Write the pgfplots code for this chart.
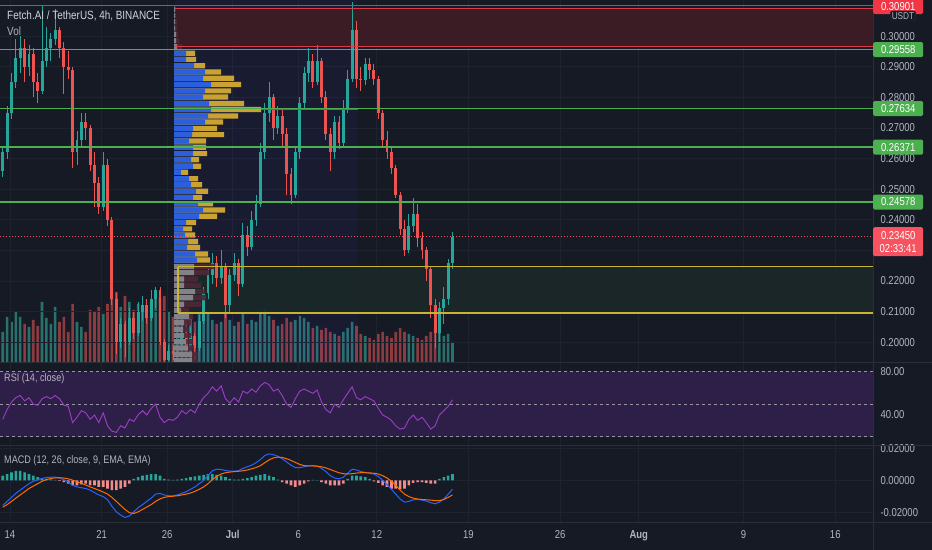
\documentclass[border=0pt]{standalone}
\usepackage{fontspec}
\setmainfont{Liberation Sans}
\usepackage{graphicx}
\usepackage{pgfplots}
\usepackage{pgfplotstable}
\pgfplotsset{compat=1.18}

\definecolor{bg}{HTML}{161A25}
\definecolor{gridc}{HTML}{1F2330}
\definecolor{sepc}{HTML}{2A2E39}
\definecolor{tickc}{HTML}{B2B5BE}
\definecolor{titlec}{HTML}{D1D4DC}
\definecolor{upc}{HTML}{26A69A}
\definecolor{dnc}{HTML}{EF5350}
\definecolor{volup}{HTML}{28726D}
\definecolor{voldn}{HTML}{8C3C41}
\definecolor{greenl}{HTML}{4CAF50}
\definecolor{redl}{HTML}{F23645}
\definecolor{curc}{HTML}{F7525F}
\definecolor{zonec}{HTML}{3B1C25}
\definecolor{zoneline}{HTML}{D83A48}
\definecolor{topline}{HTML}{8C5A66}
\definecolor{yell}{HTML}{C8B430}
\definecolor{boxc}{HTML}{1B2A28}
\definecolor{pblue}{HTML}{2C5FDB}
\definecolor{pgold}{HTML}{C9A233}
\definecolor{pgrey}{HTML}{8F9198}
\definecolor{pmaroon}{HTML}{4F2736}
\definecolor{pocc}{HTML}{5060D0}
\definecolor{rsiband}{HTML}{2E1F48}
\definecolor{rsic}{HTML}{9C3FC8}
\definecolor{dashc}{HTML}{9598A1}
\definecolor{macdc}{HTML}{2962FF}
\definecolor{sigc}{HTML}{FF6D00}
\definecolor{histup}{HTML}{26A69A}
\definecolor{histdn}{HTML}{F28B8B}

\newcommand\sq[1]{\scalebox{0.83}[1]{#1}}

% 8h candles: x (days from 1 June), open, high, low, close, volume (px), RSI, MACD, signal, histogram
\pgfplotstableread{
x o h l c v r m s hh
13.45 0.2560 0.2640 0.2540 0.2620 30 36 -0.0155 -0.0166 0.003
13.78 0.2620 0.2770 0.2600 0.2750 45 45 -0.0130 -0.0150 0.004
14.12 0.2750 0.2880 0.2730 0.2850 40 52 -0.0105 -0.0130 0.005
14.45 0.2850 0.2990 0.2830 0.2930 50 56 -0.0080 -0.0110 0.006
14.78 0.2930 0.3000 0.2880 0.2960 45 58 -0.0060 -0.0090 0.006
15.12 0.2960 0.2990 0.2850 0.2900 38 53 -0.0040 -0.0070 0.005
15.45 0.2900 0.2970 0.2870 0.2940 35 56 -0.0020 -0.0050 0.004
15.78 0.2940 0.2960 0.2800 0.2850 42 50 -0.0005 -0.0035 0.003
16.12 0.2850 0.2880 0.2780 0.2820 36 49 0.0005 -0.0020 0.002
16.45 0.2820 0.3100 0.2810 0.2920 60 55 0.0012 -0.0005 0.0015
16.78 0.2920 0.3030 0.2900 0.2960 44 57 0.0018 0.0005 0.001
17.12 0.2960 0.3010 0.2920 0.2990 38 55 0.0020 0.0012 0.0006
17.45 0.2990 0.3090 0.2970 0.3020 55 58 0.0021 0.0016 0.0003
17.78 0.3020 0.3030 0.2930 0.2960 40 55 0.0015 0.0017 -0.0002
18.12 0.2960 0.2980 0.2810 0.2900 45 49 0.0005 0.0015 -0.001
18.45 0.2900 0.2950 0.2860 0.2890 30 48 -0.0010 0.0010 -0.002
18.78 0.2890 0.2900 0.2570 0.2620 58 33 -0.0030 0.0002 -0.003
19.12 0.2620 0.2690 0.2580 0.2660 40 38 -0.0040 -0.0008 -0.003
19.45 0.2660 0.2750 0.2640 0.2720 35 44 -0.0045 -0.0018 -0.0025
19.78 0.2720 0.2750 0.2660 0.2700 30 42 -0.0050 -0.0028 -0.002
20.12 0.2700 0.2710 0.2560 0.2580 52 36 -0.0060 -0.0040 -0.003
20.45 0.2580 0.2620 0.2440 0.2520 50 40 -0.0075 -0.0050 -0.003
20.78 0.2520 0.2540 0.2420 0.2440 55 33 -0.0090 -0.0060 -0.004
21.12 0.2440 0.2620 0.2430 0.2580 48 42 -0.0100 -0.0072 -0.004
21.45 0.2580 0.2600 0.2380 0.2400 58 30 -0.0120 -0.0085 -0.005
21.78 0.2400 0.2410 0.2120 0.2140 65 25 -0.0160 -0.0105 -0.006
22.12 0.2140 0.2160 0.1960 0.2000 70 24 -0.0195 -0.0130 -0.006
22.45 0.2000 0.2080 0.1980 0.2060 55 30 -0.0215 -0.0155 -0.005
22.78 0.2060 0.2070 0.1950 0.2000 66 28 -0.0230 -0.0180 -0.004
23.12 0.2000 0.2110 0.1990 0.2080 60 36 -0.0220 -0.0200 -0.002
23.45 0.2080 0.2100 0.2010 0.2030 52 34 -0.0195 -0.0205 0.001
23.78 0.2030 0.2130 0.2020 0.2100 58 40 -0.0170 -0.0195 0.002
24.12 0.2100 0.2150 0.2070 0.2120 50 44 -0.0150 -0.0180 0.003
24.45 0.2120 0.2140 0.2060 0.2080 45 40 -0.0130 -0.0165 0.0035
24.78 0.2080 0.2170 0.2070 0.2140 60 46 -0.0110 -0.0150 0.004
25.12 0.2140 0.2180 0.2110 0.2170 70 50 -0.0085 -0.0130 0.004
25.45 0.2170 0.2180 0.1990 0.2000 64 38 -0.0080 -0.0115 0.003
25.78 0.2000 0.2010 0.1935 0.1940 66 33 -0.0090 -0.0105 0.001
26.12 0.1940 0.1990 0.1937 0.1970 50 36 -0.0095 -0.0100 0.0005
26.45 0.1970 0.1990 0.1940 0.1960 45 35 -0.0095 -0.0098 0.0003
26.78 0.1960 0.2010 0.1950 0.1990 48 38 -0.0090 -0.0095 0.0005
27.12 0.1990 0.2050 0.1980 0.2030 46 44 -0.0080 -0.0090 0.001
27.45 0.2030 0.2040 0.1970 0.1990 42 41 -0.0070 -0.0085 0.0015
27.78 0.1990 0.2050 0.1980 0.2020 44 45 -0.0055 -0.0078 0.002
28.12 0.2020 0.2030 0.1960 0.1980 40 42 -0.0040 -0.0068 0.0025
28.45 0.1980 0.2090 0.1970 0.2070 48 50 -0.0020 -0.0055 0.003
28.78 0.2070 0.2180 0.2060 0.2160 52 56 0.0000 -0.0040 0.0035
29.12 0.2160 0.2240 0.2140 0.2220 48 60 0.0030 -0.0020 0.004
29.45 0.2220 0.2290 0.2190 0.2260 42 66 0.0060 0.0005 0.004
29.78 0.2260 0.2280 0.2180 0.2210 38 62 0.0070 0.0025 0.0035
30.12 0.2210 0.2300 0.2190 0.2250 40 67 0.0068 0.0040 0.003
30.45 0.2250 0.2260 0.2080 0.2120 48 55 0.0062 0.0048 0.002
30.78 0.2120 0.2240 0.2100 0.2220 42 51 0.0058 0.0052 0.001
31.12 0.2220 0.2290 0.2200 0.2260 36 56 0.0058 0.0055 0.0005
31.45 0.2260 0.2270 0.2150 0.2190 40 52 0.0060 0.0057 0.0005
31.78 0.2190 0.2390 0.2180 0.2350 48 62 0.0075 0.0060 0.001
32.12 0.2350 0.2380 0.2280 0.2310 38 60 0.0085 0.0065 0.0015
32.45 0.2310 0.2430 0.2300 0.2400 42 64 0.0095 0.0072 0.002
32.78 0.2400 0.2480 0.2380 0.2450 40 61 0.0110 0.0080 0.003
33.12 0.2450 0.2650 0.2440 0.2620 50 67 0.0130 0.0092 0.0035
33.45 0.2620 0.2780 0.2600 0.2750 52 70 0.0155 0.0110 0.004
33.78 0.2750 0.2850 0.2720 0.2800 46 68 0.0165 0.0128 0.003
34.12 0.2800 0.2810 0.2660 0.2700 42 62 0.0160 0.0140 0.002
34.45 0.2700 0.2770 0.2680 0.2740 36 64 0.0150 0.0145 0.0005
34.78 0.2740 0.2760 0.2640 0.2680 38 58 0.0135 0.0143 -0.001
35.12 0.2680 0.2700 0.2480 0.2550 44 50 0.0115 0.0135 -0.002
35.45 0.2550 0.2570 0.2450 0.2480 40 47 0.0095 0.0125 -0.003
35.78 0.2480 0.2640 0.2470 0.2620 42 55 0.0080 0.0112 -0.004
36.12 0.2620 0.2800 0.2600 0.2780 46 62 0.0080 0.0100 -0.003
36.45 0.2780 0.2900 0.2760 0.2880 44 64 0.0085 0.0092 -0.002
36.78 0.2880 0.2960 0.2850 0.2920 40 62 0.0090 0.0090 -0.0005
37.12 0.2920 0.2940 0.2830 0.2850 34 60 0.0092 0.0090 0.0003
37.45 0.2850 0.2970 0.2840 0.2920 36 63 0.0090 0.0088 0.0002
37.78 0.2920 0.2930 0.2780 0.2800 32 52 0.0075 0.0085 -0.001
38.12 0.2800 0.2820 0.2660 0.2680 34 45 0.0055 0.0078 -0.002
38.45 0.2680 0.2700 0.2560 0.2620 30 42 0.0030 0.0068 -0.003
38.78 0.2620 0.2740 0.2600 0.2720 28 50 0.0015 0.0058 -0.003
39.12 0.2720 0.2740 0.2630 0.2650 26 47 0.0010 0.0048 -0.003
39.45 0.2650 0.2790 0.2640 0.2760 30 54 0.0020 0.0042 -0.002
39.78 0.2760 0.2890 0.2750 0.2860 34 60 0.0045 0.0040 0.001
40.12 0.2860 0.3110 0.2850 0.3020 40 66 0.0070 0.0042 0.003
40.45 0.3020 0.3050 0.2830 0.2860 36 56 0.0065 0.0046 0.003
40.78 0.2860 0.2900 0.2820 0.2855 28 54 0.0055 0.0048 0.0025
41.12 0.2855 0.2930 0.2840 0.2910 26 57 0.0050 0.0048 0.002
41.45 0.2910 0.2930 0.2860 0.2890 24 55 0.0045 0.0047 0.001
41.78 0.2890 0.2910 0.2840 0.2860 22 53 0.0040 0.0045 -0.0005
42.12 0.2860 0.2870 0.2730 0.2750 28 46 0.0025 0.0040 -0.0015
42.45 0.2750 0.2760 0.2640 0.2660 30 40 0.0000 0.0030 -0.003
42.78 0.2660 0.2690 0.2600 0.2620 26 38 -0.0025 0.0015 -0.004
43.12 0.2620 0.2640 0.2550 0.2570 24 35 -0.0055 -0.0005 -0.005
43.45 0.2570 0.2580 0.2470 0.2480 30 30 -0.0085 -0.0030 -0.005
43.78 0.2480 0.2490 0.2350 0.2370 34 27 -0.0115 -0.0060 -0.0055
44.12 0.2370 0.2400 0.2280 0.2300 30 28 -0.0135 -0.0085 -0.005
44.45 0.2300 0.2420 0.2290 0.2380 28 36 -0.0130 -0.0100 -0.003
44.78 0.2380 0.2470 0.2360 0.2420 26 40 -0.0120 -0.0110 -0.0015
45.12 0.2420 0.2450 0.2310 0.2340 24 35 -0.0118 -0.0115 -0.001
45.45 0.2340 0.2360 0.2270 0.2300 22 38 -0.0122 -0.0118 -0.001
45.78 0.2300 0.2310 0.2200 0.2240 26 33 -0.0128 -0.0120 -0.0015
46.12 0.2240 0.2250 0.2080 0.2120 30 27 -0.0138 -0.0122 -0.002
46.45 0.2120 0.2140 0.1980 0.2030 34 30 -0.0145 -0.0125 -0.002
46.78 0.2030 0.2130 0.2000 0.2110 30 40 -0.0135 -0.0125 0.001
47.12 0.2110 0.2180 0.2060 0.2140 26 44 -0.0115 -0.0118 0.002
47.45 0.2140 0.2270 0.2120 0.2260 28 48 -0.0085 -0.0105 0.003
47.78 0.2260 0.2360 0.2240 0.2345 20 54 -0.0055 -0.0090 0.004
}\candles

% volume profile, value area rows: price, buy width, total width (px)
\pgfplotstableread{
p b t
0.2944 12 21
0.2924 12 22
0.2903 20 31
0.2883 31 47
0.2862 29 60
0.2842 37 67
0.2821 31 57
0.2801 29 54
0.2780 35 70
0.2760 37 87
0.2739 34 64
0.2719 31 49
0.2698 19 43
0.2678 18 50
0.2657 15 32
0.2637 19 32
0.2616 19 33
0.2596 17 25
0.2575 19 27
0.2555 7 14
0.2534 15 24
0.2514 17 28
0.2493 22 34
0.2473 19 28
0.2452 24 39
0.2432 29 51
0.2411 25 43
0.2391 12 22
0.2370 9 18
0.2350 11 21
0.2329 14 24
0.2309 13 26
0.2288 21 34
0.2268 23 36
}\vaprof

% rows outside the value area
\pgfplotstableread{
p g m
0.2247 20 40
0.2227 20 35
0.2206 10 24
0.2186 10 27
0.2165 21 31
0.2145 19 32
0.2124 10 27
0.2104 7 15
0.2083 15 19
0.2063 10 17
0.2042 9 15
0.2022 10 17
0.2001 12 19
0.1981 14 20
0.1960 18 24
0.1940 18 24
0.2965 3 8
0.2985 2 5
0.3006 2 4
0.3026 1 3
0.3047 1 3
0.3067 1 2
0.3088 1 2
}\outprof

\pgfplotsset{
  panel/.style={scale only axis, width=873bp, xmin=13.24, xmax=79.88,
    enlargelimits=false, clip=true, anchor=south west,
    axis line style={draw=none}, major tick length=0pt,
    grid=major, major grid style={draw=gridc, line width=0.8bp},
    xtick={14,21,26,31,36,42,49,56,62,70,77}, xticklabels={},
    scaled y ticks=false, yticklabel pos=right,
    yticklabel style={text=tickc, font=\fontsize{11.5}{12}\selectfont, anchor=west, xshift=4bp},
    /pgf/number format/assume math mode=true},
  overlay/.style={scale only axis, width=873bp, enlargelimits=false,
    hide axis, clip=true, anchor=south west},
  pbar/.style={xbar, bar width=0.0017, bar shift=0pt, draw=none},
  candle/.style 2 args={only marks, mark=*, mark size=0pt, draw=none, fill=none,
    error bars/y dir=plus, error bars/y explicit, error bars/error mark=none,
    error bars/error bar style={draw=#1, line width=#2}},
}
\tikzset{
  lab/.style={anchor=west, minimum width=50bp, minimum height=15bp, inner sep=0pt,
    text=white, font=\fontsize{11.5}{12}\selectfont, rounded corners=1.5bp},
}

\begin{document}
\begin{tikzpicture}
\fill[bg] (0,0) rectangle (932bp,550bp);

% volume
\begin{axis}[overlay, at={(0bp,188bp)}, height=362bp, xmin=13.24, xmax=79.88, ymin=0, ymax=362]
\addplot[ybar, bar width=0.2, bar shift=0pt, fill=volup, draw=none,
  restrict expr to domain={\thisrow{c}-\thisrow{o}}{0:1}] table[x=x,y=v] {\candles};
\addplot[ybar, bar width=0.2, bar shift=0pt, fill=voldn, draw=none,
  restrict expr to domain={\thisrow{c}-\thisrow{o}}{-1:0}] table[x=x,y=v] {\candles};
\end{axis}

% price
\begin{axis}[panel, at={(0bp,188bp)}, height=362bp, ymin=0.1935, ymax=0.3118,
  ytick={0.20,0.21,0.22,0.24,0.25,0.26,0.27,0.28,0.29,0.30},
  extra y ticks={0.23}, extra y tick labels={},
  yticklabel={\sq{\pgfmathprintnumber[fixed,fixed zerofill,precision=5]{\tick}}}]
\fill[blue!70!white, opacity=0.06] (axis cs:26.60,0.1935) rectangle (axis cs:40.56,0.3118);
\fill[zonec] (axis cs:26.60,0.2965) rectangle (axis cs:79.88,0.30901);
\fill[boxc, opacity=0.8] (axis cs:26.82,0.2095) rectangle (axis cs:79.88,0.2247);
% wicks
\addplot[candle={upc}{0.9bp}, restrict expr to domain={\thisrow{c}-\thisrow{o}}{0:1}]
  table[x=x, y=l, y error plus expr=\thisrow{h}-\thisrow{l}] {\candles};
\addplot[candle={dnc}{0.9bp}, restrict expr to domain={\thisrow{c}-\thisrow{o}}{-1:0}]
  table[x=x, y=l, y error plus expr=\thisrow{h}-\thisrow{l}] {\candles};
% bodies
\addplot[candle={upc}{2.9bp}, restrict expr to domain={\thisrow{c}-\thisrow{o}}{0:1}]
  table[x=x, y=o, y error plus expr=\thisrow{c}-\thisrow{o}] {\candles};
\addplot[candle={dnc}{2.9bp}, restrict expr to domain={\thisrow{c}-\thisrow{o}}{-1:0}]
  table[x=x, y=c, y error plus expr=\thisrow{o}-\thisrow{c}] {\candles};
\end{axis}

% volume profile and horizontal levels (x in px from the profile start)
\begin{axis}[overlay, at={(0bp,188bp)}, height=362bp, xmin=-174, xmax=699, ymin=0.1935, ymax=0.3118]
\draw[pocc, line width=1bp] (axis cs:0,0.2760) -- (axis cs:184,0.2760);
\addplot[pbar, fill=pgold] table[x=t,y=p] {\vaprof};
\addplot[pbar, fill=pblue] table[x=b,y=p] {\vaprof};
\addplot[pbar, fill=pmaroon, fill opacity=0.9] table[x=m,y=p] {\outprof};
\addplot[pbar, fill=pgrey, fill opacity=0.85] table[x=g,y=p] {\outprof};
\draw[topline, line width=1bp] (axis cs:-174,0.3101) -- (axis cs:699,0.3101);
\draw[zoneline, line width=1bp] (axis cs:1,0.30901) -- (axis cs:699,0.30901);
\draw[zoneline, line width=1bp] (axis cs:1,0.2965) -- (axis cs:699,0.2965);
\draw[greenl, line width=1.5bp] (axis cs:-174,0.29558) -- (axis cs:699,0.29558);
\draw[greenl, line width=1.5bp] (axis cs:-174,0.27634) -- (axis cs:699,0.27634);
\draw[greenl, line width=1.5bp] (axis cs:-174,0.26371) -- (axis cs:699,0.26371);
\draw[greenl, line width=1.5bp] (axis cs:-174,0.24578) -- (axis cs:699,0.24578);
\draw[yell, line width=1.3bp] (axis cs:4,0.2095) -- (axis cs:699,0.2095);
\draw[yell, line width=1.3bp] (axis cs:4,0.2247) -- (axis cs:699,0.2247);
\draw[yell, line width=1.3bp] (axis cs:4,0.2095) -- (axis cs:4,0.2247);
\draw[curc, line width=0.8bp, dash pattern=on 1bp off 2bp] (axis cs:-174,0.2345) -- (axis cs:699,0.2345);
\coordinate (lz) at (axis cs:699,0.30901);
\coordinate (g1) at (axis cs:699,0.29558);
\coordinate (g2) at (axis cs:699,0.27634);
\coordinate (g3) at (axis cs:699,0.26371);
\coordinate (g4) at (axis cs:699,0.24578);
\coordinate (cp) at (axis cs:699,0.2345);
\end{axis}

% RSI
\begin{axis}[panel, at={(0bp,105bp)}, height=82bp, ymin=12.3, ymax=88, ytick={40,80},
  yticklabel={\sq{\pgfmathprintnumber[fixed,fixed zerofill,precision=2]{\tick}}}]
\fill[rsiband] (axis cs:13.24,20) rectangle (axis cs:79.88,80);
\draw[dashc, line width=1bp, dash pattern=on 3bp off 3bp] (axis cs:13.24,80) -- (axis cs:79.88,80);
\draw[dashc, line width=1bp, dash pattern=on 3bp off 3bp] (axis cs:13.24,50) -- (axis cs:79.88,50);
\draw[dashc, line width=1bp, dash pattern=on 3bp off 3bp] (axis cs:13.24,20) -- (axis cs:79.88,20);
\addplot[rsic, line width=0.9bp] table[x=x,y=r] {\candles};
\end{axis}

% MACD
\begin{axis}[panel, at={(0bp,28bp)}, height=76bp, ymin=-0.0258, ymax=0.0214,
  ytick={-0.02,0,0.02},
  yticklabel={\sq{\pgfmathprintnumber[fixed,fixed zerofill,precision=5]{\tick}}},
  xticklabels={\sq{14},\sq{21},\sq{26},\sq{\bfseries Jul},\sq{6},\sq{12},\sq{19},\sq{26},\sq{\bfseries Aug},\sq{9},\sq{16}},
  xticklabel style={text=tickc, font=\fontsize{11.5}{12}\selectfont, yshift=-5bp}]
\addplot[ybar, bar width=0.2, bar shift=0pt, fill=histup, draw=none, restrict y to domain=0:1]
  table[x=x,y=hh] {\candles};
\addplot[ybar, bar width=0.2, bar shift=0pt, fill=histdn, draw=none, restrict y to domain=-1:0]
  table[x=x,y=hh] {\candles};
\addplot[macdc, line width=1bp] table[x=x,y=m] {\candles};
\addplot[sigc, line width=1bp] table[x=x,y=s] {\candles};
\end{axis}

% separators
\draw[sepc, line width=1bp] (0,187.5bp) -- (932bp,187.5bp);
\draw[sepc, line width=1bp] (0,104.5bp) -- (932bp,104.5bp);
\draw[sepc, line width=1bp] (0,27.5bp) -- (932bp,27.5bp);
\draw[sepc, line width=1bp] (873.5bp,0) -- (873.5bp,550bp);

% price labels
\node[lab, fill=redl, yshift=2bp] at (lz) {\sq{0.30901}};
\node[anchor=center, fill=bg, draw=sepc, rounded corners=2bp, inner sep=1.5bp,
  text=tickc, font=\fontsize{10}{10}\selectfont] at (903bp,534bp) {\sq{USDT}};
\node[lab, fill=greenl] at (g1) {\sq{0.29558}};
\node[lab, fill=greenl] at (g2) {\sq{0.27634}};
\node[lab, fill=greenl] at (g3) {\sq{0.26371}};
\node[lab, fill=greenl] at (g4) {\sq{0.24578}};
\node[lab, fill=curc, anchor=north west, yshift=9.5bp, minimum height=29bp, align=center]
  at (cp) {\sq{0.23450}\\[1bp]\sq{02:33:41}};

% titles
\node[anchor=west, inner sep=0pt, text=titlec, font=\fontsize{12}{12}\selectfont] at (7bp,534bp)
  {\sq{Fetch.AI / TetherUS, 4h, BINANCE}};
\node[anchor=west, inner sep=0pt, text=tickc, font=\fontsize{12}{12}\selectfont] at (7bp,519bp) {\sq{Vol}};
\node[anchor=west, inner sep=0pt, text=tickc, font=\fontsize{11}{12}\selectfont] at (4bp,171bp) {\sq{RSI (14, close)}};
\node[anchor=west, inner sep=0pt, text=tickc, font=\fontsize{11}{12}\selectfont] at (4bp,89bp)
  {\sq{MACD (12, 26, close, 9, EMA, EMA)}};

\pgfresetboundingbox
\useasboundingbox (0,0) rectangle (932bp,550bp);
\end{tikzpicture}
\end{document}
